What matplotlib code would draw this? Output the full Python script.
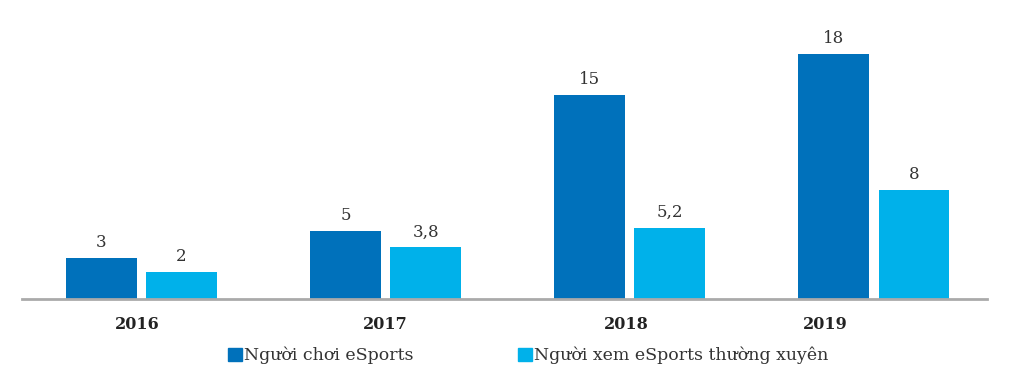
import matplotlib.pyplot as plt
import numpy as np
from matplotlib.patches import Patch

years = ['2016', '2017', '2018', '2019']
players = [3, 5, 15, 18]
viewers = [2, 3.8, 5.2, 8]
series_names = ['Người chơi eSports', 'Người xem eSports thường xuyên']

plt.rcParams['font.family'] = ['DejaVu Serif']

dark = '#0071bb'
light = '#00b1ea'

x = np.arange(len(years))
w = 0.29
off = 0.164

fig = plt.figure(figsize=(10.12, 3.83), dpi=100)
ax = fig.add_axes([0.0217, 0.219, 0.9535, 0.73])

b1 = ax.bar(x - off, players, w, color=dark)
b2 = ax.bar(x + off, viewers, w, color=light)


def fmt(v):
    return str(v).replace('.', ',') if v != int(v) else str(int(v))


for bars, vals in [(b1, players), (b2, viewers)]:
    for rect, v in zip(bars, vals):
        ax.annotate(fmt(v), (rect.get_x() + rect.get_width() / 2, v),
                    xytext=(0, 5), textcoords='offset points',
                    ha='center', va='bottom', fontsize=12, color='#333333')

ax.set_xlim(-0.49, 3.463)
ax.set_ylim(0, 20.5)

# nhãn năm (2019 hơi lệch trái như ảnh gốc)
label_shift = [-0.016, 0, -0.016, -0.2]
ax.set_xticks(x + np.array(label_shift))
ax.set_xticklabels(years, fontsize=11.5, fontweight='bold', color='#222222')
ax.tick_params(axis='x', length=0, pad=12)
ax.set_yticks([])

for s in ['top', 'right', 'left']:
    ax.spines[s].set_visible(False)
ax.spines['bottom'].set_color('#aaaaaa')
ax.spines['bottom'].set_linewidth(2)

handles = [Patch(color=dark), Patch(color=light)]
fig.legend(handles, series_names, loc='center', bbox_to_anchor=(0.522, 0.072),
           ncol=2, frameon=False, fontsize=12.5, handlelength=0.8, handleheight=0.8,
           handletextpad=0.15, columnspacing=6, labelcolor='#333333')

fig.savefig('out.png', dpi=100)
